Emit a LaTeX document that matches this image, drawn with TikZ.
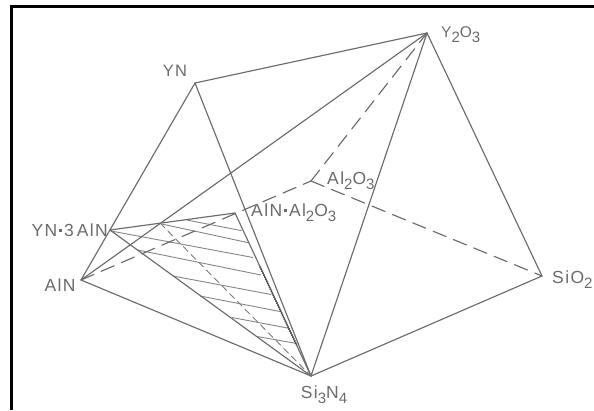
\documentclass[tikz,border=0pt]{standalone}
\usepackage{fontspec}
\setmainfont[LetterSpace=8]{Liberation Sans}
\usetikzlibrary{calc}
\newcommand{\chemsub}[1]{\raisebox{-5pt}{\fontsize{15}{15}\selectfont #1}}
\newcommand{\chemdot}{\kern1.5pt\raisebox{4.5pt}{\rule{2.8pt}{2.8pt}}\kern2.5pt}

\begin{document}
\begin{tikzpicture}[
        x=1pt, y=-1pt,
        compound/.style={text=black!58, inner sep=0pt, font=\fontsize{17.5}{18}\selectfont},
        edge/.style={draw=black!58, line width=1.15pt, line cap=round, line join=round},
        hidden/.style={edge, dash pattern=on 14pt off 8pt},
        inner/.style={draw=black!52, line width=0.9pt, dash pattern=on 7pt off 4pt},
        hatch/.style={draw=black!48, line width=0.9pt},
        dots/.style={draw=black!75, line width=1.7pt, dash pattern=on 1pt off 1.2pt},
        frame/.style={draw=black, line width=3pt}
    ]
        \useasboundingbox (0,0) rectangle (594,410);

        % --- FRAME ---
        \coordinate (corner) at (11.5,6.5);
        \coordinate (frametop) at (594,6.5);
        \coordinate (framebottom) at (11.5,410);
        \draw[frame] (framebottom) -- (corner) -- (frametop);

        % --- CORNERS ---
        \coordinate (y2o3) at (427,33);
        \coordinate (yn) at (195,83);
        \coordinate (aln) at (81,280);
        \coordinate (yn3aln) at (110,230);
        \coordinate (al2o3) at (311,181);
        \coordinate (sio2) at (542,276);
        \coordinate (si3n4) at (311,376);
        \coordinate (alnal) at (235,213);
        \coordinate (innertop) at (160,223);

        % --- LABELS ---
        \node[compound, anchor=west, font=\fontsize{15.5}{18}\selectfont] (ly2o3) at (441,35) {Y\chemsub{2}O\chemsub{3}};
        \node[compound, font=\fontsize{16.5}{18}\selectfont] (lyn) at (175,71) {YN};
        \node[compound, anchor=east] (lyn3aln) at (108,230) {YN\chemdot 3\,AlN};
        \node[compound] (laln) at (60,285) {AlN};
        \node[compound, anchor=west] (lal2o3) at (327,181) {Al\chemsub{2}O\chemsub{3}};
        \node[compound, anchor=west] (lalnal) at (251,213) {AlN\chemdot Al\chemsub{2}O\chemsub{3}};
        \node[compound, anchor=west] (lsio2) at (552,280) {SiO\chemsub{2}};
        \node[compound] (lsi3n4) at (324,395) {Si\chemsub{3}N\chemsub{4}};

        % --- HATCHING ---
        \foreach \i/\ax/\ay/\bx/\by in {1/186.7/220/241.7/230.7, 2/161.7/224/248.3/242.7,
                3/111/231/253/257.5, 4/138/250/261/275, 5/173/276/271/294.5,
                6/200/296/280/311.5, 7/232/317.5/290/328.5, 8/257/336.5/297/343.5} {
            \coordinate (ha\i) at (\ax,\ay);
            \coordinate (hb\i) at (\bx,\by);
            \draw[hatch] (ha\i) -- (hb\i);
        }

        % --- CONNECTIONS ---
        \draw[edge] (yn) -- (y2o3);
        \draw[edge] (yn) -- (aln);
        \draw[edge] (yn) -- (si3n4);
        \draw[edge] (aln) -- (si3n4);
        \draw[edge] (aln) -- (y2o3);
        \draw[edge] (y2o3) -- (si3n4);
        \draw[edge] (y2o3) -- (sio2);
        \draw[edge] (sio2) -- (si3n4);

        \draw[hidden] (aln) -- (al2o3);
        \draw[hidden] (al2o3) -- (y2o3);
        \draw[hidden] (al2o3) -- (sio2);

        \draw[edge] (yn3aln) -- (alnal);
        \draw[edge] (yn3aln) -- (si3n4);
        \draw[edge] (alnal) -- (si3n4);
        \draw[inner] (innertop) -- (si3n4);
        \draw[dots] ($(alnal)!0.33!(si3n4)$) -- ($(alnal)!0.81!(si3n4)$);
    \end{tikzpicture}
\end{document}
